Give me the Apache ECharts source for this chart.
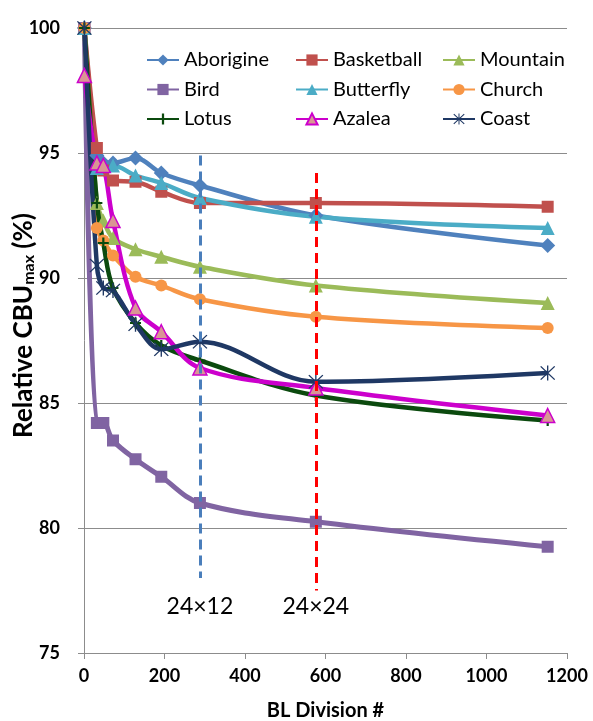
<!DOCTYPE html>
<html>
<head>
<meta charset="utf-8">
<script src="https://cdn.jsdelivr.net/npm/echarts@6/dist/echarts.min.js"></script>
<style>
  html, body { margin: 0; padding: 0; background: #fff; }
  #main { width: 593px; height: 721px; }
</style>
</head>
<body>
<div id="main"></div>
<script>
// BL division counts (x) shared by every image
const xValues = [1, 32, 48, 72, 128, 192, 288, 576, 1152];

const aborigine  = [100, 94.9, 94.6, 94.6, 94.8, 94.2, 93.7, 92.5, 91.3];
const basketball = [100, 95.2, 94.3, 93.9, 93.85, 93.45, 93.0, 93.0, 92.85];
const mountain   = [100, 93.0, 92.3, 91.6, 91.15, 90.85, 90.45, 89.7, 89.0];
const bird       = [100, 84.2, 84.2, 83.5, 82.75, 82.05, 81.0, 80.25, 79.25];
const butterfly  = [100, 94.4, 94.5, 94.5, 94.1, 93.8, 93.2, 92.45, 92.0];
const church     = [100, 92.0, 91.5, 90.9, 90.05, 89.7, 89.15, 88.45, 88.0];
const lotus      = [100, 93.0, 91.4, 89.6, 88.2, 87.3, 86.7, 85.3, 84.3];
const azalea     = [98.1, 94.6, 94.5, 92.3, 88.8, 87.85, 86.4, 85.6, 84.5];
const coast      = [100, 90.5, 89.6, 89.5, 88.15, 87.15, 87.45, 85.85, 86.2];

// dashed guides: division, top value, bottom value, caption
const guideX      = [288, 576];
const guideTop    = [94.9, 94.2];
const guideBottom = [78.0, 77.5];
const guideLabels = ['24\u00d712', '24\u00d724'];
const guideColors = ['#4a7ebb', '#ff0000'];
const guideGap    = [17, 5];

const plusPath = 'path://M4,0H6V4H10V6H6V10H4V6H0V4H4Z';
const starPath = 'path://M4.6,0H5.4V10H4.6Z M0.5,0.9L1.1,0.3L9.5,9.1L8.9,9.7Z M8.9,0.3L9.5,0.9L1.1,9.7L0.5,9.1Z';

const FONT = 'Lato';

function mk(name, values, color, symbol, size, extra) {
  return Object.assign({
    name: name,
    type: 'line',
    smooth: 0.35,
    data: xValues.map((x, i) => [x, values[i]]),
    symbol: symbol,
    symbolSize: size,
    lineStyle: { color: color, width: 4.5 },
    itemStyle: { color: color },
    emphasis: { disabled: true },
    z: 3
  }, extra || {});
}

const series = [
  mk('Aborigine', aborigine, '#4f81bd', 'diamond', 15),
  mk('Basketball', basketball, '#c0504d', 'rect', 12),
  mk('Mountain', mountain, '#9bbb59', 'triangle', 14),
  mk('Bird', bird, '#8064a2', 'rect', 12, { lineStyle: { color: '#8064a2', width: 5 } }),
  mk('Butterfly', butterfly, '#4bacc6', 'triangle', 14),
  mk('Church', church, '#f79646', 'circle', 12),
  mk('Lotus', lotus, '#0b4a0e', plusPath, 11),
  mk('Azalea', azalea, '#cc00cc', 'triangle', 14, {
    itemStyle: { color: '#d99694', borderColor: '#cc00cc', borderWidth: 1.5 }
  }),
  mk('Coast', coast, '#1f3864', starPath, 15),
  {
    name: 'guides',
    type: 'line',
    data: [],
    z: 2,
    markLine: {
      silent: true,
      symbol: ['none', 'none'],
      animation: false,
      data: guideX.map((x, i) => [
        { coord: [x, guideTop[i]], lineStyle: { color: guideColors[i], type: [10, 6], width: 3 } },
        { coord: [x, guideBottom[i]],
          label: { show: true, position: 'end', formatter: guideLabels[i], distance: guideGap[i],
                   color: '#000', fontFamily: FONT, fontSize: 23 } }
      ])
    }
  }
];

function legendCol(left, names) {
  return {
    orient: 'vertical',
    left: left,
    top: 50,
    padding: 0,
    itemWidth: 32,
    itemHeight: 14,
    itemGap: 9.5,
    selectedMode: false,
    data: names,
    textStyle: { fontFamily: FONT, fontSize: 20, color: '#000', lineHeight: 20 }
  };
}

const chart = echarts.init(document.getElementById('main'), null, { renderer: 'canvas' });
chart.setOption({
  animation: false,
  backgroundColor: '#fff',
  grid: { left: 84, right: 26, top: 28, bottom: 68, outerBoundsMode: 'none', containLabel: false },
  legend: [
    legendCol(146, ['Aborigine', 'Bird', 'Lotus']),
    legendCol(295, ['Basketball', 'Butterfly', 'Azalea']),
    legendCol(442, ['Mountain', 'Church', 'Coast'])
  ],
  xAxis: {
    type: 'value',
    min: 0, max: 1200, interval: 200,
    name: 'BL Division #',
    nameLocation: 'middle',
    nameGap: 48,
    nameMoveOverlap: false,
    nameTextStyle: { fontFamily: FONT, fontSize: 20, fontWeight: 'bold', color: '#000' },
    axisLine: { lineStyle: { color: '#8c8c8c', width: 1 } },
    axisTick: { show: true, length: 6, lineStyle: { color: '#8c8c8c' } },
    axisLabel: { fontFamily: FONT, fontSize: 18, fontWeight: 'bold', color: '#000', margin: 14,
                 formatter: v => String(v) },
    splitLine: { show: false }
  },
  yAxis: {
    type: 'value',
    min: 75, max: 100, interval: 5,
    name: '{a|Relative CBU}{b|max}{a| (%)}',
    nameLocation: 'middle',
    nameGap: 47,
    nameMoveOverlap: false,
    nameTextStyle: {
      color: '#000',
      padding: [0, 0, 0, 30],
      rich: {
        a: { fontFamily: FONT, fontSize: 26, fontWeight: 'bold', color: '#000' },
        b: { fontFamily: FONT, fontSize: 16, fontWeight: 'bold', color: '#000',
             verticalAlign: 'bottom', lineHeight: 16 }
      }
    },
    axisLine: { show: true, lineStyle: { color: '#8c8c8c', width: 1 } },
    axisTick: { show: true, length: 6, lineStyle: { color: '#8c8c8c' } },
    axisLabel: { fontFamily: FONT, fontSize: 18, fontWeight: 'bold', color: '#000', margin: 24 },
    splitLine: { show: true, lineStyle: { color: '#8c8c8c', width: 1 } }
  },
  series: series
});
</script>
</body>
</html>
